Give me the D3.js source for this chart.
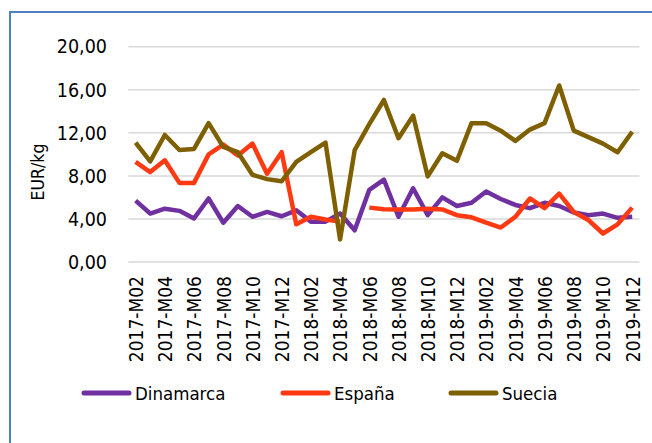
<!DOCTYPE html>
<html>
<head>
<meta charset="utf-8">
<script src="https://cdn.jsdelivr.net/npm/d3@7"></script>
<style>
html,body{margin:0;padding:0;background:#fff;}
svg{display:block;}
</style>
</head>
<body>
<svg id="chart" width="652" height="443"></svg>
<script>
const months = ["2017-M02","2017-M03","2017-M04","2017-M05","2017-M06","2017-M07","2017-M08","2017-M09","2017-M10","2017-M11","2017-M12",
"2018-M01","2018-M02","2018-M03","2018-M04","2018-M05","2018-M06","2018-M07","2018-M08","2018-M09","2018-M10","2018-M11","2018-M12",
"2019-M01","2019-M02","2019-M03","2019-M04","2019-M05","2019-M06","2019-M07","2019-M08","2019-M09","2019-M10","2019-M11","2019-M12"];
const dinamarca = [5.7,4.5,4.95,4.75,4.05,5.9,3.65,5.2,4.2,4.65,4.25,4.8,3.75,3.75,4.5,2.95,6.7,7.65,4.2,6.85,4.35,6.0,5.2,5.5,6.55,5.85,5.3,5.0,5.5,5.2,4.6,4.35,4.5,4.1,4.2];
const espana = [9.3,8.35,9.45,7.35,7.35,10.0,10.9,9.9,11.0,8.2,10.2,3.5,4.2,3.95,3.75,null,5.05,4.9,4.88,4.88,4.95,4.88,4.35,4.15,3.65,3.2,4.2,5.9,5.0,6.35,4.65,3.9,2.65,3.5,5.05];
const suecia = [11.1,9.35,11.8,10.4,10.5,12.9,10.7,10.2,8.1,7.7,7.5,9.3,10.2,11.1,2.1,10.4,12.8,15.05,11.5,13.6,7.95,10.1,9.4,12.9,12.9,12.2,11.25,12.3,12.9,16.4,12.2,11.6,11.0,10.2,12.1];
const seriesNames = ["Dinamarca","España","Suecia"];
const seriesColors = ["#7030a0","#ff3a12","#7f6000"];
const yTicks = [0,4,8,12,16,20];
const yTitle = "EUR/kg";

const seriesData = [dinamarca, espana, suecia];
const svg = d3.select("#chart");

// frame
svg.append("path").attr("d","M10,443 V12 H652").attr("fill","none").attr("stroke","#4f81bd").attr("stroke-width",2);

const x = d3.scalePoint().domain(months).range([128.3, 639.5]).padding(0.5);
const y = d3.scaleLinear().domain([0,20]).range([262, 46.7]);

const font = "'DejaVu Sans Condensed', 'DejaVu Sans', sans-serif";

// gridlines
svg.append("g").selectAll("line").data(yTicks).join("line")
  .attr("x1",128.3).attr("x2",639.5)
  .attr("y1",d=>y(d)).attr("y2",d=>y(d))
  .attr("stroke","#d9d9d9").attr("stroke-width",1.5);

// y axis
const yAxis = d3.axisLeft(y).tickValues(yTicks).tickSize(0).tickPadding(0)
  .tickFormat(d => d3.format(".2f")(d).replace(".",","));
const gy = svg.append("g").attr("transform","translate(107,0)").call(yAxis);
gy.select(".domain").remove();
gy.selectAll("text").attr("font-family",font).attr("font-stretch","condensed").attr("font-size",19.5).attr("fill","#000");

// x axis
const xAxis = d3.axisBottom(x).tickValues(months.filter((d,i)=>i%2===0)).tickSize(0).tickPadding(0);
const gx = svg.append("g").attr("transform","translate(0,262)").call(xAxis);
gx.select(".domain").remove();
gx.selectAll("text")
  .attr("font-family",font).attr("font-stretch","condensed").attr("font-size",19).attr("fill","#000")
  .attr("transform","rotate(-90)")
  .attr("text-anchor","end")
  .attr("x",-14).attr("y",0).attr("dy","0.36em");

// y title
svg.append("text").attr("transform","translate(38,172) rotate(-90)")
  .attr("text-anchor","middle").attr("dy","0.35em")
  .attr("font-family",font).attr("font-stretch","condensed").attr("font-size",17.5).attr("fill","#000").text(yTitle);

// lines
const line = d3.line().defined(d=>d.v!=null).x(d=>x(d.m)).y(d=>y(d.v));
seriesData.forEach((vals,k)=>{
  const pts = months.map((m,i)=>({m, v: vals[i]}));
  svg.append("path").datum(pts).attr("d",line)
    .attr("fill","none").attr("stroke",seriesColors[k]).attr("stroke-width",4.5)
    .attr("stroke-linejoin","round").attr("stroke-linecap","butt");
});

// legend
const legX = [84, 283, 451];
const lg = svg.append("g");
seriesNames.forEach((n,k)=>{
  lg.append("line").attr("x1",legX[k]).attr("x2",legX[k]+45).attr("y1",393).attr("y2",393)
    .attr("stroke",seriesColors[k]).attr("stroke-width",5).attr("stroke-linecap","round");
  lg.append("text").attr("x",legX[k]+51).attr("y",393).attr("dy","0.36em")
    .attr("font-family",font).attr("font-stretch","condensed").attr("font-size",18.5).attr("fill","#000").text(n);
});
</script>
</body>
</html>
